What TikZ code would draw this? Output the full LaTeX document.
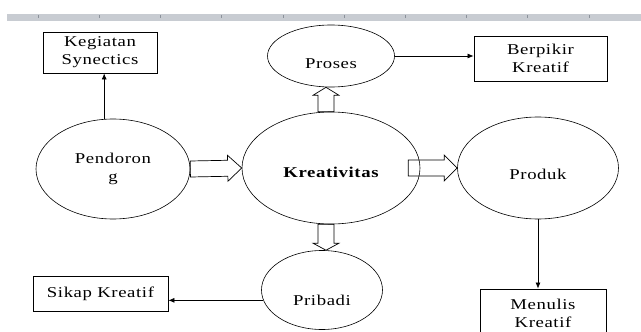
\documentclass[tikz,border=0pt]{standalone}
\usepackage{fontspec}
\setmainfont{Liberation Serif}[FakeStretch=1.25, LetterSpace=4]
\usetikzlibrary{arrows.meta,positioning,shapes.geometric,calc}
\definecolor{RulerGray}{HTML}{C8CCD2}
\definecolor{TickGray}{HTML}{8C929B}
\newcommand{\fatarrow}[3][13pt]{%
  \draw[fatshape] ($(#2)!8pt!90:(#3)$) -- ($(#3)!#1!(#2)!8pt!90:(#3)$) -- ($(#3)!#1!(#2)!13pt!90:(#3)$) -- (#3) -- ($(#3)!#1!(#2)!13pt!-90:(#3)$) -- ($(#3)!#1!(#2)!8pt!-90:(#3)$) -- ($(#2)!8pt!-90:(#3)$) -- cycle;}

\begin{document}
\begin{tikzpicture}[x=1pt,y=-1pt,>=Latex,every node/.style={font=\fontsize{15}{18}\selectfont, align=center, inner sep=0pt}, bubble/.style={draw, ellipse, line width=0.6pt}, sink/.style={text height=#1, text depth=0pt}, textbox/.style={draw, rectangle, line width=0.8pt}, link/.style={-{Latex[length=6pt,width=5pt]}, line width=0.7pt}, fatshape/.style={line width=0.7pt, line join=miter}]
        \clip (0,0) rectangle (641,332);
        \fill[RulerGray] (7,14) rectangle (641,21);
        \foreach \i in {0,...,9} \draw[TickGray, line width=0.6pt] ({38+61.2*\i},15) -- ({38+61.2*\i},18);
        \node[bubble, sink=19pt, minimum width=178pt, minimum height=112pt] (kreativitas) at (331,168) {\bfseries Kreativitas};
        \node[bubble, minimum width=154pt, minimum height=100pt] (pendorong) at (113,169) {Pendoron\\g};
        \node[bubble, sink=23pt, minimum width=161pt, minimum height=102pt] (produk) at (538,168) {Produk};
        \node[bubble, sink=25pt, minimum width=127pt, minimum height=62pt] (proses) at (331,56) {Proses};
        \node[bubble, sink=30pt, minimum width=121pt, minimum height=79pt] (pribadi) at (322,290) {Pribadi};
        \node[textbox, minimum width=114pt, minimum height=41pt] (kegiatan) at (100,52.5) {Kegiatan\\Synectics};
        \node[textbox, minimum width=133pt, minimum height=45pt] (berpikir) at (540.5,58.5) {Berpikir\\Kreatif};
        \node[textbox, minimum width=135pt, minimum height=35pt] (sikap) at (100.5,293.5) {Sikap Kreatif};
        \node[textbox, minimum width=126pt, minimum height=48pt] (menulis) at (543,313) {Menulis\\Kreatif};
        \coordinate (kreaout) at ([xshift=-12pt]kreativitas.east);
        \coordinate (kreaup) at ([xshift=-5pt]kreativitas.north);
        \coordinate (kreadown) at ([xshift=-5pt]kreativitas.south);
        \fatarrow[14pt]{pendorong.east}{kreativitas.west}
        \fatarrow[13pt]{kreaout}{produk.west}
        \fatarrow[8pt]{kreaup}{kreaup |- proses.south}
        \fatarrow[7pt]{kreadown}{kreadown |- pribadi.north}
        \draw[link] (pendorong.100) -- (pendorong.100 |- kegiatan.south);
        \draw[link] (proses.east) -- (proses.east -| berpikir.west);
        \draw[link] (produk.south) -- (produk.south |- menulis.north);
        \draw[link] (pribadi.190) -- (pribadi.190 -| sikap.east);
    \end{tikzpicture}
\end{document}
